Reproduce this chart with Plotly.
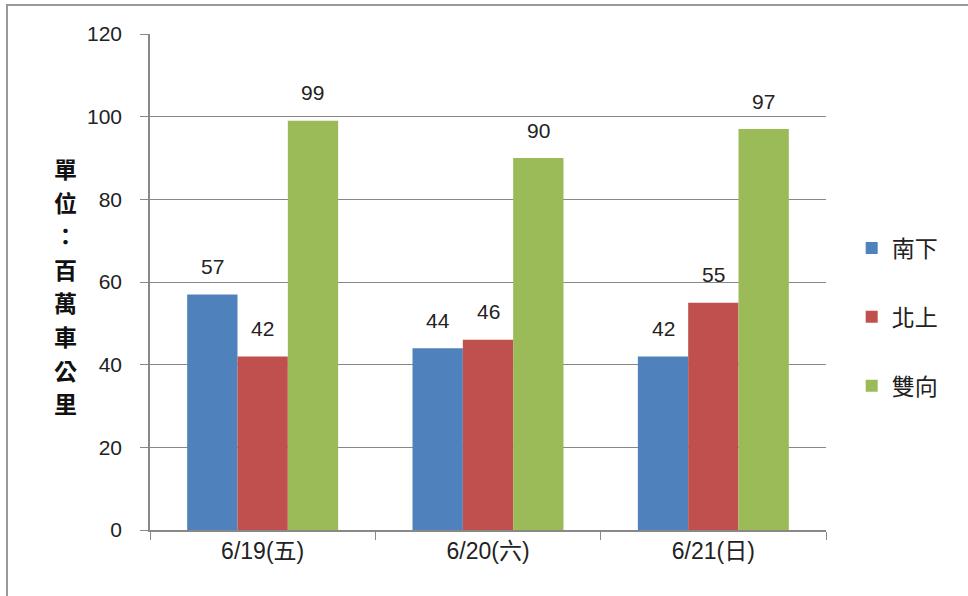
import plotly.graph_objects as go

categories = ["6/19(五)", "6/20(六)", "6/21(日)"]
series_names = ["南下", "北上", "雙向"]
south = [57, 44, 42]
north = [42, 46, 55]
both = [99, 90, 97]
colors = ["#4F81BD", "#C0504D", "#9BBB59"]
y_title_chars = ["單", "位", "：", "百", "萬", "車", "公", "里"]

FONT = "Liberation Sans, Noto Sans CJK TC, sans-serif"
CJK = "Noto Sans CJK TC, sans-serif"

W, H = 968, 596
L, R, T, B = 150, 142, 34, 66
pw, ph = W - L - R, H - T - B
BARGAP = 0.33
bar_px = pw / len(categories) * (1 - BARGAP) / 3

fig = go.Figure()
all_vals = [south, north, both]
for i, (name, vals) in enumerate(zip(series_names, all_vals)):
    fig.add_trace(go.Bar(
        x=categories, y=vals, name=name, legendgroup=name,
        marker=dict(color=colors[i], line=dict(width=0)),
    ))
    for c, v in zip(categories, vals):
        fig.add_annotation(
            x=c, y=v, text=str(v), showarrow=False,
            xshift=(i - 1) * bar_px, yshift=28, yanchor="middle",
            font=dict(size=21, color="#222", family=FONT),
        )

fig.update_layout(
    width=W, height=H,
    margin=dict(l=L, r=R, t=T, b=B),
    paper_bgcolor="white", plot_bgcolor="white",
    barmode="group", bargap=BARGAP, bargroupgap=0,
    font=dict(family=FONT, size=20, color="#222"),
    showlegend=True,
    legend=dict(x=1.038, xanchor="left", y=(H - B - 317) / ph, yanchor="middle",
                font=dict(size=23, color="#222", family=CJK),
                tracegroupgap=36, itemwidth=30, traceorder="grouped",
                bgcolor="rgba(0,0,0,0)"),
    xaxis=dict(showline=True, linecolor="#888", linewidth=1.5,
               ticks="outside", ticklen=8, tickcolor="#888", tickson="boundaries",
               tickfont=dict(size=23, color="#222"), showgrid=False),
    yaxis=dict(range=[0, 120], dtick=20, showline=True, linecolor="#888", linewidth=1.5,
               ticks="outside", ticklen=8, tickcolor="#888", ticklabelstandoff=14,
               gridcolor="#888", gridwidth=1, zeroline=False,
               tickfont=dict(size=21, color="#222")),
)

for k, ch in enumerate(y_title_chars):
    ypx = 168 + k * 33.6
    fig.add_annotation(
        text="<b>" + ch + "</b>", xref="paper", yref="paper",
        x=(65 - L) / pw, y=(H - B - ypx) / ph, xanchor="center", yanchor="middle",
        showarrow=False, font=dict(size=23, color="#111", family=CJK),
    )

# outer border
x0 = (7 - L) / pw
x1 = (W + 5 - L) / pw
y1 = 1 + (T - 5) / ph
y0 = -(B + 10) / ph
fig.add_shape(type="rect", xref="paper", yref="paper", x0=x0, x1=x1, y0=y0, y1=y1,
              line=dict(color="#999", width=2), fillcolor="rgba(0,0,0,0)", layer="below")

fig.write_html("out.html", config={"displayModeBar": False},
               post_script="document.body.style.margin='0';document.body.style.overflow='hidden';")
